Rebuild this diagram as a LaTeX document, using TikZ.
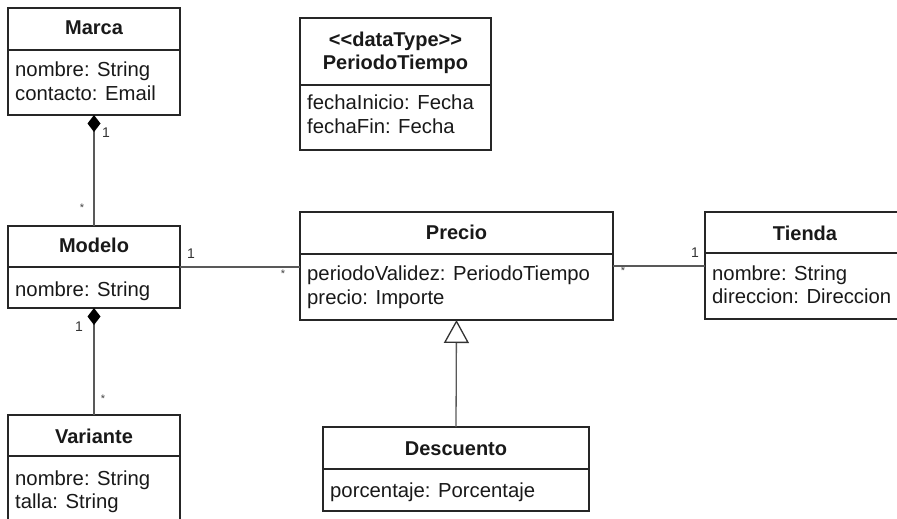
\documentclass[tikz,border=0pt]{standalone}
\usepackage{fontspec}
\setmainfont{Liberation Sans}
\usetikzlibrary{arrows.meta}
\newcommand\umlbox[6]{%
  \node[classbox, anchor=north west, minimum width={(#4-#2)*1pt}, minimum height={(#5-#3)*1pt}] (#1) at (#2,#3) {};
  \draw[sepline] (#1.west |- 0,#6) -- (#1.east |- 0,#6);
}
\begin{document}
\begin{tikzpicture}[x=1pt,y=-1pt,
  classbox/.style={draw=black!85, line width=1.4pt, fill=white, inner sep=0pt, outer sep=0pt},
  sepline/.style={draw=black!85, line width=1.4pt},
  ctitle/.style={font=\fontsize{20}{24}\selectfont\bfseries, anchor=base, inner sep=0pt, text=black!90},
  attr/.style={font=\fontsize{20.3}{24}\selectfont, anchor=base west, inner sep=0pt, text=black!90},
  mult/.style={font=\fontsize{14}{16}\selectfont, inner sep=0pt, text=black!80},
  star/.style={font=\fontsize{11}{12}\selectfont, inner sep=0pt, text=black!75},
  conn/.style={draw=black!65, line width=1.3pt},
]
\useasboundingbox (0,0) rectangle (897,519);
\clip (0,0) rectangle (897,519);

% Marca
\umlbox{marca}{8}{8}{180}{115}{50}
\node[ctitle] (marcat) at (94,35) {Marca};
\node[attr] (marca1) at (15,77) {nombre: String};
\node[attr] (marca2) at (15,100) {contacto: Email};

% PeriodoTiempo
\umlbox{periodo}{300}{18}{491}{150}{85}
\node[ctitle] (periodot1) at (395.5,47) {{<}{<}dataType{>}{>}};
\node[ctitle] (periodot2) at (395.5,70) {PeriodoTiempo};
\node[attr] (periodo1) at (307,110) {fechaInicio: Fecha};
\node[attr] (periodo2) at (307,133) {fechaFin: Fecha};

% Modelo
\umlbox{modelo}{8}{226}{180}{308}{267}
\node[ctitle] (modelot) at (94,252) {Modelo};
\node[attr] (modelo1) at (15,296) {nombre: String};

% Precio
\umlbox{precio}{300}{212}{613}{320}{254}
\node[ctitle] (preciot) at (456.5,239) {Precio};
\node[attr] (precio1) at (307,280) {periodoValidez: PeriodoTiempo};
\node[attr] (precio2) at (307,304) {precio: Importe};

% Tienda
\umlbox{tienda}{705}{212}{905}{319}{253}
\node[ctitle] (tiendat) at (805,240) {Tienda};
\node[attr] (tienda1) at (712,280) {nombre: String};
\node[attr] (tienda2) at (712,303) {direccion: Direccion};

% Variante
\umlbox{variante}{8}{415}{180}{530}{456}
\node[ctitle] (variantet) at (94,443) {Variante};
\node[attr] (variante1) at (15,485) {nombre: String};
\node[attr] (variante2) at (15,508) {talla: String};

% Descuento
\umlbox{descuento}{323}{427}{589}{511}{469}
\node[ctitle] (descuentot) at (456,455) {Descuento};
\node[attr] (descuento1) at (330,497) {porcentaje: Porcentaje};

% connectors
\draw[conn, {Diamond[length=17pt,width=13pt,color=black]}-] (marca.south) -- (modelo.north);
\draw[conn, {Diamond[length=17pt,width=13pt,color=black]}-] (modelo.south) -- (variante.north);
\draw[conn] (modelo.east) -- (modelo.east -| precio.west);
\draw[conn] (precio.east) -- (precio.east -| tienda.west);
\draw[conn, -{Triangle[open, length=23pt, width=25pt, color=black!80, fill=white]}] (descuento.north) -- (precio.south);

% multiplicities
\node[mult] (m1) at (106,133) {1};
\node[star] (s1) at (82,208) {*};
\node[mult] (m2) at (79,327) {1};
\node[star] (s2) at (103,399) {*};
\node[mult] (m3) at (191,254) {1};
\node[star] (s3) at (283,274) {*};
\node[star] (s4) at (623,271) {*};
\node[mult] (m4) at (695,253) {1};
\end{tikzpicture}
\end{document}
